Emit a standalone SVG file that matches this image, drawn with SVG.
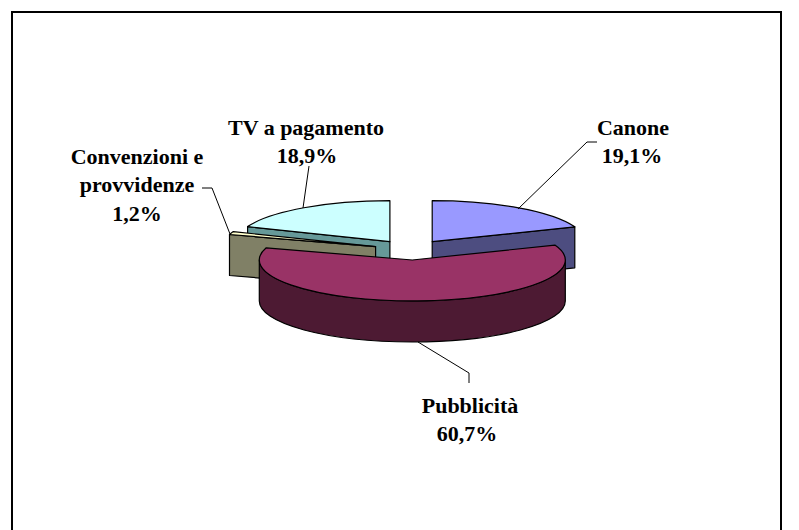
<svg xmlns="http://www.w3.org/2000/svg" width="799" height="530" viewBox="0 0 799 530">
<style>
.s{stroke:#000;stroke-width:1.2;stroke-linejoin:round}
.lbl{font-weight:bold;font-size:22px;fill:#000;text-anchor:middle}
.ld{fill:none;stroke:#000;stroke-width:1}
</style>
<rect width="799" height="530" fill="#fff"/>
<path d="M12,530 L12,12 L781,12 L781,530" fill="none" stroke="#000" stroke-width="2"/>
<g id="tv">
<path class="s" fill="#669999" d="M389.9,241.7 L247.6,226.6 L247.6,267.6 L389.9,282.7 Z"/>
<path class="s" fill="#CCFFFF" d="M389.9,241.7 L247.6,226.6 A153,41 0 0 1 389.9,200.7 Z"/>
</g>
<g id="canone">
<path class="s" fill="#4D4D80" d="M432.2,241.7 L574.8,226.8 L574.8,267.8 L432.2,282.7 Z"/>
<path class="s" fill="#9999FF" d="M432.2,241.7 L432.2,200.7 A153,41 0 0 1 574.8,226.8 Z"/>
</g>
<g id="convenzioni">
<path class="s" fill="#808066" d="M375.6,246.7 L229.5,234.5 L229.5,275.5 L375.6,287.7 Z"/>
<path class="s" fill="#FFFFCC" d="M375.6,246.7 L229.5,234.5 A153,41 0 0 1 233.3,231.6 Z"/>
</g>
<g id="pubblicita">
<path class="s" fill="#4D1A33" d="M565.3,260 A153,41 0 0 1 259.3,260 L259.3,301 A153,41 0 0 0 565.3,301 Z"/>
<path class="s" fill="#993366" d="M412.3,260 L554.9,245.1 A153,41 0 1 1 266.2,247.8 Z"/>
</g>
<g id="connectors">
<polyline class="ld" points="597,142 587,142 518,209"/>
<polyline class="ld" points="309,166 303,208"/>
<polyline class="ld" points="202,188 212,188 230,234"/>
<polyline class="ld" points="418,342 469,373 469,383"/>
</g>
<g id="labels" font-family="'Liberation Serif', 'DejaVu Serif', 'Times New Roman', serif">
<text class="lbl" x="633" y="135">Canone</text>
<text class="lbl" x="632" y="163">19,1%</text>
<text class="lbl" x="306" y="135">TV a pagamento</text>
<text class="lbl" x="307" y="163">18,9%</text>
<text class="lbl" x="137" y="164">Convenzioni e</text>
<text class="lbl" x="137" y="192">provvidenze</text>
<text class="lbl" x="137" y="221">1,2%</text>
<text class="lbl" x="470" y="413">Pubblicità</text>
<text class="lbl" x="467" y="441">60,7%</text>
</g>
</svg>
